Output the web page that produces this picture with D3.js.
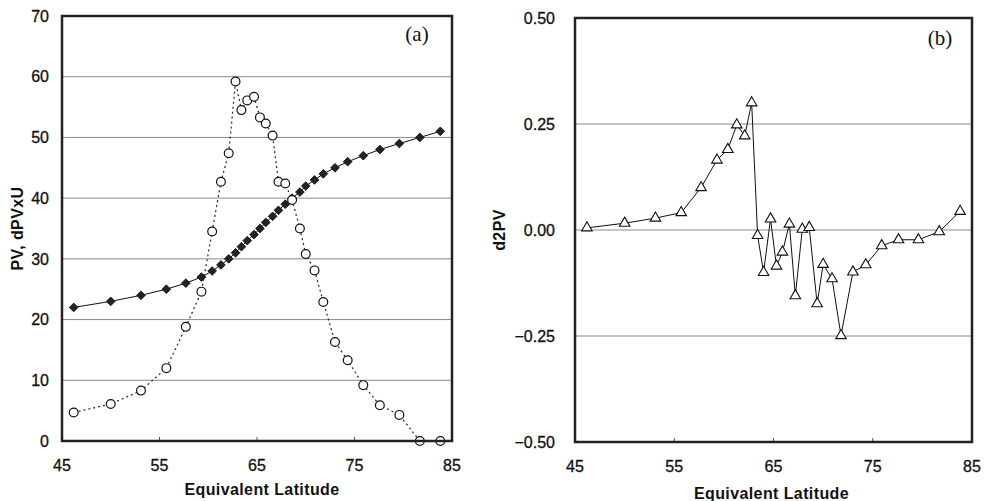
<!DOCTYPE html>
<html>
<head>
<meta charset="utf-8">
<script src="https://cdn.jsdelivr.net/npm/d3@7"></script>
<style>
  body { margin: 0; background: #fff; }
  svg { display: block; }
  .tick-label { font-family: "Liberation Sans", Arial, sans-serif; font-size: 16px; fill: #111; stroke: #111; stroke-width: 0.3px; }
  .axis-title { font-family: "Liberation Sans", Arial, sans-serif; font-size: 16px; font-weight: bold; fill: #111; letter-spacing: 0.4px; }
  .panel-tag { font-family: "Liberation Serif", "Times New Roman", serif; font-size: 21px; fill: #111; }
</style>
</head>
<body>
<svg id="chart" width="985" height="501"></svg>
<script>
// equivalent latitude of each point (shared by both panels)
var lat = [46.2, 50.0, 53.1, 55.7, 57.7, 59.3, 60.4, 61.3, 62.1, 62.8,
           63.4, 64.0, 64.7, 65.3, 65.9, 66.6, 67.2, 67.9, 68.6, 69.4,
           70.0, 70.9, 71.8, 73.0, 74.3, 75.9, 77.6, 79.6, 81.7, 83.8];

// panel (a)
var pv = [22, 23, 24, 25, 26, 27, 28, 29, 30, 31,
          32, 33, 34, 35, 36, 37, 38, 39, 40, 41,
          42, 43, 44, 45, 46, 47, 48, 49, 50, 51];
var dpvxu = [4.7, 6.1, 8.3, 12.0, 18.8, 24.6, 34.5, 42.7, 47.4, 59.2,
             54.5, 56.1, 56.7, 53.3, 52.3, 50.3, 42.7, 42.4, 39.7, 35.0,
             30.8, 28.1, 22.9, 16.3, 13.3, 9.2, 5.9, 4.3, 0, 0];

// panel (b)
var d2pv = [0.005, 0.016, 0.028, 0.041, 0.10, 0.165, 0.19, 0.248, 0.222, 0.30,
            -0.013, -0.10, 0.026, -0.085, -0.052, 0.014, -0.155, 0.002, 0.006, -0.174,
            -0.081, -0.115, -0.249, -0.099, -0.082, -0.037, -0.023, -0.023, -0.004, 0.044];

var xTicks = [45, 55, 65, 75, 85];
var yTicksA = [0, 10, 20, 30, 40, 50, 60, 70];
var yTicksB = [-0.50, -0.25, 0.00, 0.25, 0.50];

var svg = d3.select("#chart");

function drawPanel(opt) {
    var g = svg.append("g");
    var x = d3.scaleLinear().domain([45, 85]).range([opt.left, opt.right]);
    var y = d3.scaleLinear().domain(opt.yDomain).range([opt.bottom, opt.top]);

    // gridlines
    g.selectAll(".grid").data(opt.yTicks.filter(function(t) {
        return t != opt.yDomain[0] && t != opt.yDomain[1];
    })).enter().append("line")
        .attr("x1", opt.left).attr("x2", opt.right)
        .attr("y1", function(d) { return y(d); })
        .attr("y2", function(d) { return y(d); })
        .attr("stroke", "#8a8a8a").attr("stroke-width", 1);

    // small inner ticks on x axis
    g.selectAll(".xt").data(xTicks.slice(1, -1)).enter().append("line")
        .attr("x1", function(d) { return x(d); }).attr("x2", function(d) { return x(d); })
        .attr("y1", opt.bottom).attr("y2", opt.bottom - 4)
        .attr("stroke", "#555").attr("stroke-width", 1);

    // y tick labels
    g.selectAll(".yl").data(opt.yTicks).enter().append("text")
        .attr("class", "tick-label")
        .attr("x", opt.left - opt.yLabelGap)
        .attr("y", function(d) { return y(d); })
        .attr("dy", "0.36em")
        .attr("text-anchor", "end")
        .text(function(d) { return opt.fmt(d); });

    // x tick labels
    g.selectAll(".xl").data(xTicks).enter().append("text")
        .attr("class", "tick-label")
        .attr("x", function(d) { return x(d); })
        .attr("y", opt.bottom + 30)
        .attr("text-anchor", "middle")
        .text(function(d) { return d; });

    // axis titles
    g.append("text").attr("class", "axis-title")
        .attr("x", (opt.left + opt.right) / 2 + opt.xTitleShift)
        .attr("y", opt.xTitleY)
        .attr("text-anchor", "middle")
        .text("Equivalent Latitude");
    g.append("text").attr("class", "axis-title")
        .attr("transform", "translate(" + opt.yTitleX + "," + ((opt.top + opt.bottom) / 2) + ") rotate(-90)")
        .attr("text-anchor", "middle")
        .attr("dy", "0.36em")
        .text(opt.yTitle);

    g.append("text").attr("class", "panel-tag")
        .attr("x", opt.tagX).attr("y", opt.tagY)
        .attr("text-anchor", "middle")
        .text(opt.tag);

    return { g: g, x: x, y: y };
}

// ---- panel (a)
var a = drawPanel({
    left: 62, right: 452, top: 16, bottom: 441,
    yDomain: [0, 70], yTicks: yTicksA, fmt: d3.format("d"), yLabelGap: 13,
    yTitle: "PV, dPVxU", yTitleX: 17, xTitleY: 495, xTitleShift: 5,
    tag: "(a)", tagX: 417, tagY: 41
});

var lineA = d3.line().x(function(d) { return a.x(d[0]); }).y(function(d) { return a.y(d[1]); });

a.g.append("path").datum(d3.zip(lat, dpvxu))
    .attr("d", lineA).attr("fill", "none")
    .attr("stroke", "#333").attr("stroke-width", 1.3)
    .attr("stroke-dasharray", "2,3");

a.g.append("path").datum(d3.zip(lat, pv))
    .attr("d", lineA).attr("fill", "none")
    .attr("stroke", "#111").attr("stroke-width", 1);

a.g.selectAll(".dia").data(d3.zip(lat, pv)).enter().append("path")
    .attr("d", d3.symbol().type(d3.symbolSquare).size(38))
    .attr("transform", function(d) { return "translate(" + a.x(d[0]) + "," + a.y(d[1]) + ") rotate(45)"; })
    .attr("fill", "#222").attr("stroke", "#111").attr("stroke-width", 0.8);

a.g.selectAll(".circ").data(d3.zip(lat, dpvxu)).enter().append("circle")
    .attr("cx", function(d) { return a.x(d[0]); })
    .attr("cy", function(d) { return a.y(d[1]); })
    .attr("r", 4.4)
    .attr("fill", "#fff").attr("stroke", "#111").attr("stroke-width", 1.2);

// ---- panel (b)
var b = drawPanel({
    left: 575, right: 972, top: 18, bottom: 442,
    yDomain: [-0.5, 0.5], yTicks: yTicksB,
    fmt: function(d) { return d3.format(".2f")(d).replace("-", "\u2212"); },
    yLabelGap: 20,
    yTitle: "d2PV", yTitleX: 499, xTitleY: 499, xTitleShift: -2,
    tag: "(b)", tagX: 940, tagY: 45
});

var lineB = d3.line().x(function(d) { return b.x(d[0]); }).y(function(d) { return b.y(d[1]); });

b.g.append("path").datum(d3.zip(lat, d2pv))
    .attr("d", lineB).attr("fill", "none")
    .attr("stroke", "#111").attr("stroke-width", 1);

b.g.selectAll(".tri").data(d3.zip(lat, d2pv)).enter().append("path")
    .attr("d", d3.symbol().type(d3.symbolTriangle).size(48))
    .attr("transform", function(d) { return "translate(" + b.x(d[0]) + "," + b.y(d[1]) + ")"; })
    .attr("fill", "#fff").attr("stroke", "#111").attr("stroke-width", 1.1);

// frames on top
[a, b].forEach(function(p) {
    var r = p.x.range(), yr = p.y.range();
    p.g.append("rect")
        .attr("x", r[0]).attr("y", yr[1])
        .attr("width", r[1] - r[0]).attr("height", yr[0] - yr[1])
        .attr("fill", "none").attr("stroke", "#222").attr("stroke-width", 2.5);
});
</script>
</body>
</html>
